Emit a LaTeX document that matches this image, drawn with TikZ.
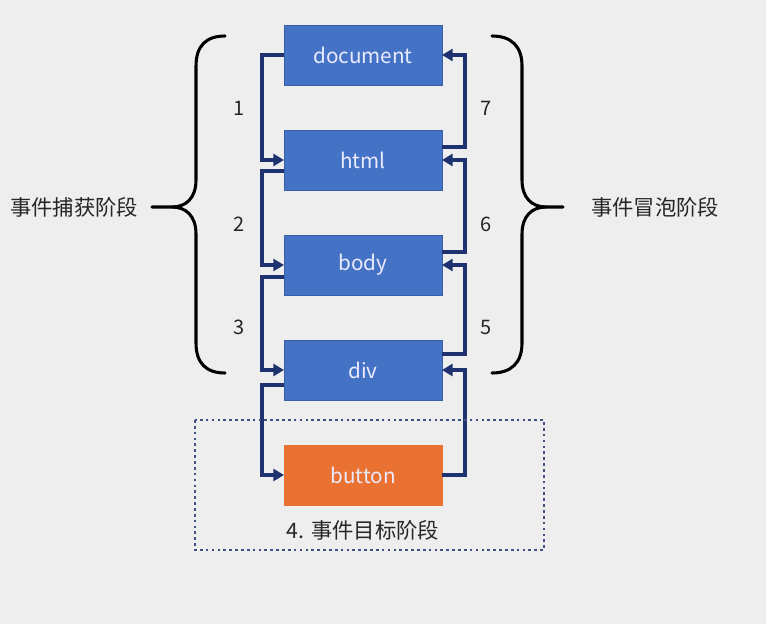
\documentclass[tikz,border=0pt]{standalone}
\usepackage{fontspec}
\setmainfont{Noto Sans CJK SC}
\usepackage{tikz}
\usetikzlibrary{positioning,calc,arrows.meta}
\definecolor{boxblue}{HTML}{4472C4}
\definecolor{boxline}{HTML}{3A5FA8}
\definecolor{btnorange}{HTML}{E97132}
\definecolor{flowblue}{HTML}{1F3270}
\definecolor{bggray}{HTML}{EEEEEE}
\definecolor{txtgray}{HTML}{262626}

\begin{document}
\begin{tikzpicture}[x=0.75pt,y=-0.75pt,
		box/.style={draw=boxline,fill=boxblue,text=white!92!blue,minimum width=118.5pt,minimum height=45pt,inner sep=0pt,outer sep=0pt,font=\fontsize{15.5}{18}\selectfont},
		flow/.style={draw=flowblue,line width=2.6pt,-{Triangle[length=8pt,width=9pt]}},
		num/.style={text=txtgray,font=\fontsize{15}{18}\selectfont},
		phase/.style={text=txtgray,font=\fontsize{16}{19}\selectfont},
		brace/.style={draw=black,line width=2.3pt,line cap=round}]
		\useasboundingbox[fill=bggray] (0,0) rectangle (766,624);
		
		% the five elements
		\node[box] (doc) at (363,55) {document};
		\node[box,below=33.75pt of doc] (html) {html};
		\node[box,below=33.75pt of html] (body) {body};
		\node[box,below=33.75pt of body] (div) {div};
		\node[box,fill=btnorange,draw=btnorange,below=33.75pt of div] (btn) {button};
		
		% capture, left side
		\draw[flow] (doc.west)--++(-22,0) |- (html.west);
		\draw[flow] ($(html.west)+(0,11)$)--++(-22,0) |- (body.west);
		\draw[flow] ($(body.west)+(0,12)$)--++(-22,0) |- (div.west);
		\draw[flow] ($(div.west)+(0,15)$)--++(-22,0) |- (btn.west);
		
		% bubble, right side
		\draw[flow] (btn.east)--++(23,0) |- (div.east);
		\draw[flow] ($(div.east)+(0,-16)$)--++(23,0) |- (body.east);
		\draw[flow] ($(body.east)+(0,-13)$)--++(23,0) |- (html.east);
		\draw[flow] ($(html.east)+(0,-13)$)--++(23,0) |- (doc.east);
		
		\node[num] (n1) at (239,108) {1};
		\node[num] (n2) at (239,224) {2};
		\node[num] (n3) at (239,327) {3};
		\node[num] (n7) at (486,108) {7};
		\node[num] (n6) at (486,224) {6};
		\node[num] (n5) at (486,327) {5};
		
		% braces
		\draw[brace] (225,36) .. controls (206,36) and (196,46) .. (196,66) -- (196,180)
			.. controls (196,198) and (186,207) .. (172,207) -- (152,207);
		\draw[brace] (172,207) .. controls (186,207) and (196,216) .. (196,234) -- (196,343)
			.. controls (196,363) and (206,373) .. (225,373);
		\draw[brace] (492,36) .. controls (511,36) and (522,46) .. (522,66) -- (522,180)
			.. controls (522,198) and (532,207) .. (546,207) -- (563,207);
		\draw[brace] (546,207) .. controls (532,207) and (522,216) .. (522,234) -- (522,343)
			.. controls (522,363) and (511,373) .. (492,373);
		\node[phase] (capture) at (74,207) {事件捕获阶段};
		\node[phase] (bubble) at (655,207) {事件冒泡阶段};
		
		% target phase
		\draw[flowblue!85,line width=2pt,dash pattern=on 2pt off 2.4pt] (195,420) rectangle (544,550);
		\node[phase] (target) at (363,530) {4. 事件目标阶段};
	\end{tikzpicture}
\end{document}
